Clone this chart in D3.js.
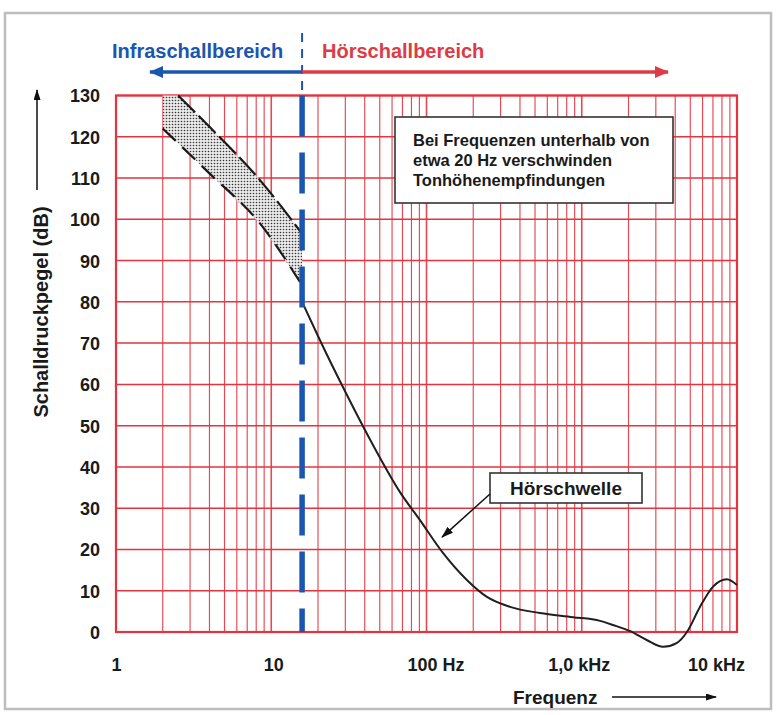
<!DOCTYPE html>
<html>
<head>
<meta charset="utf-8">
<script src="https://cdn.jsdelivr.net/npm/d3@7"></script>
<style>
  body { margin: 0; background: #fff; }
  svg { display: block; font-family: "Liberation Sans", Arial, sans-serif; font-weight: bold; }
</style>
</head>
<body>
<svg id="chart" width="777" height="715"></svg>
<script>
// Axis ticks
const freqTicks = [1, 10, 100, 1000, 10000];
const freqLabels = ["1", "10", "100 Hz", "1,0 kHz", "10 kHz"];
const levelTicks = [0, 10, 20, 30, 40, 50, 60, 70, 80, 90, 100, 110, 120, 130];

// Hörschwelle
const thresholdFreq = [15.8, 20.6, 29, 44.5, 67.5, 90.8, 128, 182, 245, 345, 538, 879, 1312, 1590, 2050, 2640, 3340, 4080, 4760, 5760, 7010, 8610, 10000];
const thresholdDb   = [80, 70.7, 59.3, 45.8, 33.9, 27.1, 19.1, 12.6, 8.5, 6.1, 4.6, 3.6, 2.7, 1.7, 0.2, -2, -3.6, -2.7, 0, 6, 11, 12.8, 11.4];

// Infraschall band
const bandUpperFreq = [2, 2.51, 4.03, 8.46, 15.8];
const bandUpperDb   = [130, 130, 122.3, 109.5, 96.5];
const bandLowerFreq = [2, 4.03, 8.46, 15.8];
const bandLowerDb   = [122, 111, 99, 84];
const infraLimit = 15.8;

const noteLines = ["Bei Frequenzen unterhalb von", "etwa 20 Hz verschwinden", "Tonhöhenempfindungen"];

const gridRed = "#e3343f";
const blue = "#1a56b0";
const red = "#df3b46";

const svg = d3.select("#chart");
const plot = {left: 116, right: 737, top: 95.5, bottom: 632};

const x = d3.scaleLog().domain([1, 10000]).range([plot.left, plot.right]);
const y = d3.scaleLinear().domain([0, 130]).range([plot.bottom, plot.top]);

// outer frame
svg.append("rect")
  .attr("x", 5).attr("y", 13).attr("width", 766).attr("height", 696)
  .attr("fill", "none").attr("stroke", "#bdbdbd").attr("stroke-width", 2.5);

const defs = svg.append("defs");
function marker(id, color, w, h) {
  defs.append("marker")
    .attr("id", id).attr("viewBox", `0 0 ${w} ${h}`)
    .attr("refX", w - 1).attr("refY", h / 2)
    .attr("markerWidth", w).attr("markerHeight", h)
    .attr("markerUnits", "userSpaceOnUse")
    .attr("orient", "auto")
    .append("path").attr("d", `M0,0L${w},${h / 2}L0,${h}Z`).attr("fill", color);
}
marker("arBlue", blue, 14, 12);
marker("arRed", red, 14, 12);
marker("arBlack", "#111", 12, 8);
marker("arSmall", "#111", 11, 7);

// stipple for the band
const dots = defs.append("pattern")
  .attr("id", "dots").attr("patternUnits", "userSpaceOnUse")
  .attr("width", 3).attr("height", 3);
dots.append("rect").attr("width", 3).attr("height", 3).attr("fill", "#e9e9e9");
dots.append("circle").attr("cx", 1.5).attr("cy", 1.5).attr("r", 0.8).attr("fill", "#3a3a3a");

// grid
const grid = svg.append("g");
grid.selectAll("line.v")
  .data(x.ticks())
  .join("line")
  .attr("x1", d => x(d)).attr("x2", d => x(d))
  .attr("y1", plot.top).attr("y2", plot.bottom)
  .attr("stroke", gridRed)
  .attr("stroke-opacity", 0.9)
  .attr("stroke-width", d => freqTicks.includes(d) ? 1.6 : 1.15);
grid.selectAll("line.h")
  .data(levelTicks)
  .join("line")
  .attr("x1", plot.left).attr("x2", plot.right)
  .attr("y1", d => y(d)).attr("y2", d => y(d))
  .attr("stroke", gridRed)
  .attr("stroke-width", 1.5);
svg.append("rect")
  .attr("x", plot.left).attr("y", plot.top)
  .attr("width", plot.right - plot.left).attr("height", plot.bottom - plot.top)
  .attr("fill", "none").attr("stroke", gridRed).attr("stroke-width", 2.2);

// y axis labels
const yAxis = svg.append("g")
  .attr("transform", `translate(${plot.left - 16},0)`)
  .call(d3.axisLeft(y).tickValues(levelTicks).tickSize(0).tickPadding(0));
yAxis.select(".domain").remove();
yAxis.selectAll("text")
  .attr("font-family", "'Liberation Sans', Arial, sans-serif")
  .attr("font-weight", "bold").attr("font-size", 18).attr("fill", "#1a1a1a")
  .attr("dy", "0.36em");

// x axis labels
const labelShift = [0, 2, 9, -3, -21];
const xAxis = svg.append("g")
  .attr("transform", `translate(0,${plot.bottom})`)
  .call(d3.axisBottom(x).tickValues(freqTicks).tickSize(0).tickPadding(0)
    .tickFormat((d, i) => freqLabels[i]));
xAxis.select(".domain").remove();
xAxis.selectAll("text")
  .attr("font-family", "'Liberation Sans', Arial, sans-serif")
  .attr("font-weight", "bold").attr("font-size", 18).attr("fill", "#1a1a1a")
  .attr("y", 39).attr("dy", 0)
  .attr("dx", (d, i) => labelShift[i]);

// axis titles
svg.append("text")
  .attr("transform", "translate(48,312) rotate(-90)")
  .attr("text-anchor", "middle").attr("font-size", 20).attr("fill", "#1a1a1a")
  .text("Schalldruckpegel (dB)");
svg.append("line")
  .attr("x1", 37).attr("x2", 37).attr("y1", 190).attr("y2", 90)
  .attr("stroke", "#111").attr("stroke-width", 1.5)
  .attr("marker-end", "url(#arSmall)");
svg.append("text")
  .attr("x", 513).attr("y", 704).attr("font-size", 19).attr("fill", "#1a1a1a")
  .text("Frequenz");
svg.append("line")
  .attr("x1", 612).attr("x2", 716).attr("y1", 697).attr("y2", 697)
  .attr("stroke", "#111").attr("stroke-width", 1.5)
  .attr("marker-end", "url(#arSmall)");

// band
const pts = (fs, ds) => fs.map((f, i) => [x(f), y(ds[i])]);
const upper = pts(bandUpperFreq, bandUpperDb);
const lower = pts(bandLowerFreq, bandLowerDb);
svg.append("path")
  .attr("d", "M" + upper.concat(lower.slice().reverse()).join("L") + "Z")
  .attr("fill", "url(#dots)");
const bandLine = d3.line().curve(d3.curveMonotoneX);
svg.append("path")
  .attr("d", bandLine(upper.slice(1)))
  .attr("fill", "none").attr("stroke", "#1a1a1a").attr("stroke-width", 2.2)
  .attr("stroke-dasharray", "24,5");
svg.append("path")
  .attr("d", bandLine(lower))
  .attr("fill", "none").attr("stroke", "#1a1a1a").attr("stroke-width", 2.2)
  .attr("stroke-dasharray", "18,9");

// threshold curve
const curve = d3.line()
  .x((d, i) => x(thresholdFreq[i]))
  .y(d => y(d))
  .curve(d3.curveMonotoneX);
svg.append("path")
  .attr("d", curve(thresholdDb))
  .attr("fill", "none").attr("stroke", "#1f1f1f").attr("stroke-width", 2);

// infrasound limit
svg.append("line")
  .attr("x1", x(infraLimit)).attr("x2", x(infraLimit))
  .attr("y1", 33).attr("y2", plot.top - 2)
  .attr("stroke", blue).attr("stroke-width", 2).attr("stroke-dasharray", "9,7");
svg.append("line")
  .attr("x1", x(infraLimit)).attr("x2", x(infraLimit))
  .attr("y1", plot.top).attr("y2", plot.bottom)
  .attr("stroke", blue).attr("stroke-width", 5.5).attr("stroke-dasharray", "41,16");

// range labels and arrows
svg.append("text")
  .attr("x", 112).attr("y", 58).attr("font-size", 20).attr("fill", blue)
  .text("Infraschallbereich");
svg.append("text")
  .attr("x", 322).attr("y", 58).attr("font-size", 20).attr("fill", red)
  .text("Hörschallbereich");
svg.append("line")
  .attr("x1", x(infraLimit)).attr("x2", 150).attr("y1", 72).attr("y2", 72)
  .attr("stroke", blue).attr("stroke-width", 3.5).attr("marker-end", "url(#arBlue)");
svg.append("line")
  .attr("x1", x(infraLimit)).attr("x2", 668).attr("y1", 72).attr("y2", 72)
  .attr("stroke", red).attr("stroke-width", 3.5).attr("marker-end", "url(#arRed)");

// note box
svg.append("rect")
  .attr("x", 395).attr("y", 117).attr("width", 278).attr("height", 86)
  .attr("fill", "#fff").attr("stroke", "#333").attr("stroke-width", 1.6);
svg.append("text")
  .attr("font-size", 16.5).attr("fill", "#1a1a1a")
  .selectAll("tspan")
  .data(noteLines)
  .join("tspan")
  .attr("x", 413).attr("y", (d, i) => 146 + i * 20)
  .text(d => d);

// Hörschwelle label
svg.append("rect")
  .attr("x", 490).attr("y", 473).attr("width", 152).attr("height", 30)
  .attr("fill", "#fff").attr("stroke", "#333").attr("stroke-width", 1.6);
svg.append("text")
  .attr("x", 566).attr("y", 495).attr("text-anchor", "middle")
  .attr("font-size", 19).attr("fill", "#1a1a1a")
  .text("Hörschwelle");
svg.append("line")
  .attr("x1", 490).attr("y1", 494).attr("x2", x(126)).attr("y2", y(23))
  .attr("stroke", "#111").attr("stroke-width", 1.5)
  .attr("marker-end", "url(#arBlack)");
</script>
</body>
</html>
